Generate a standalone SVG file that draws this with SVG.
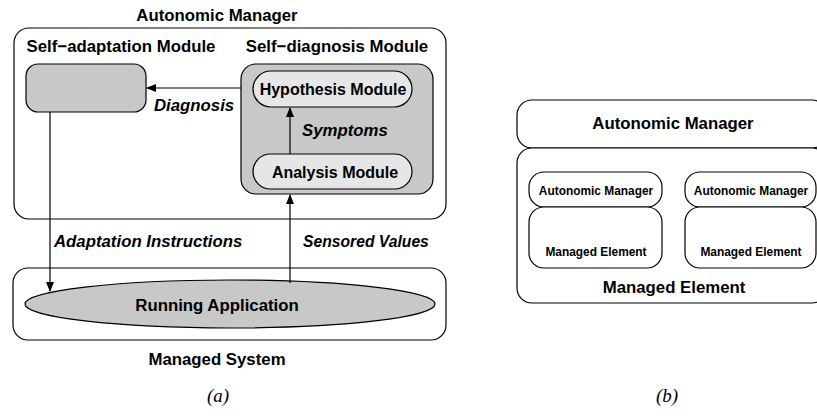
<svg xmlns="http://www.w3.org/2000/svg" width="817" height="418" viewBox="0 0 817 418">
<defs>
<marker id="ah" markerWidth="10" markerHeight="8" refX="9" refY="4" orient="auto" markerUnits="userSpaceOnUse">
<path d="M0,0 L10,4 L0,8 Z" fill="#000"/>
</marker>
<style>
.box{fill:#fff;stroke:#000;stroke-width:1.2}
.gray{fill:#c8c8c8;stroke:#000;stroke-width:1.2}
.light{fill:#e6e6e6;stroke:#000;stroke-width:1.2}
text{font-family:"Liberation Sans",Arial,sans-serif;font-weight:bold;fill:#000}
.t17{font-size:16.8px}
.t16{font-size:16px}
.t12{font-size:11.9px}
.lbl{font-size:16.8px;font-style:italic}
.cap{font-family:"Liberation Serif","Times New Roman",serif;font-weight:normal;font-style:italic;font-size:19px}
.line{stroke:#000;stroke-width:1.2;fill:none}
</style>
</defs>
<rect width="817" height="418" fill="#fff"/>
<g id="autonomic-manager">
<rect class="box" x="14" y="28" width="432" height="191" rx="15"/>
<text class="t17" x="217" y="21" text-anchor="middle">Autonomic Manager</text>
<text class="t17" x="121" y="52" text-anchor="middle">Self−adaptation Module</text>
<text class="t17" x="337" y="52" text-anchor="middle">Self−diagnosis Module</text>
</g>
<g id="self-adaptation">
<rect class="gray" x="26" y="64" width="120" height="48" rx="12"/>
</g>
<g id="self-diagnosis">
<rect class="gray" x="241" y="64" width="192" height="130" rx="15"/>
</g>
<g id="hypothesis">
<rect class="light" x="253" y="71" width="159" height="36" rx="18"/>
<text class="t16" x="333" y="95" text-anchor="middle">Hypothesis Module</text>
</g>
<g id="analysis">
<rect class="light" x="253" y="154" width="159" height="35" rx="17.5"/>
<text class="t16" x="335" y="178" text-anchor="middle">Analysis Module</text>
</g>
<g id="managed-system">
<rect class="box" x="13" y="268" width="433" height="72" rx="15"/>
<text class="t17" x="217" y="365" text-anchor="middle">Managed System</text>
</g>
<g id="running-application">
<ellipse class="gray" cx="230" cy="304" rx="205" ry="24"/>
<text class="t17" x="217" y="311" text-anchor="middle">Running Application</text>
</g>
<g id="connectors">
<line class="line" x1="241" y1="88" x2="147" y2="88" marker-end="url(#ah)"/>
<line class="line" x1="290" y1="154" x2="290" y2="108" marker-end="url(#ah)"/>
<line class="line" x1="50" y1="112" x2="50" y2="291" marker-end="url(#ah)"/>
<line class="line" x1="290" y1="283" x2="290" y2="195" marker-end="url(#ah)"/>
<text class="lbl" x="154" y="111">Diagnosis</text>
<text class="lbl" x="302" y="136">Symptoms</text>
<text class="lbl" x="54" y="247">Adaptation Instructions</text>
<text class="lbl" x="303" y="247" style="font-size:15.7px">Sensored Values</text>
</g>
<text class="cap" x="218" y="402" text-anchor="middle">(a)</text>
<g id="b-autonomic-manager">
<rect class="box" x="517" y="100" width="310" height="48" rx="15"/>
<text class="t17" x="673" y="129" text-anchor="middle">Autonomic Manager</text>
</g>
<g id="b-managed-element">
<rect class="box" x="517" y="148" width="310" height="155" rx="15"/>
<text class="t17" x="674" y="293" text-anchor="middle">Managed Element</text>
</g>
<g id="b-am-left">
<rect class="box" x="529" y="172" width="133" height="35" rx="15"/>
<text class="t12" x="596" y="195" text-anchor="middle">Autonomic Manager</text>
</g>
<g id="b-me-left">
<rect class="box" x="529" y="207" width="133" height="61" rx="15"/>
<text class="t12" x="596" y="256" text-anchor="middle">Managed Element</text>
</g>
<g id="b-am-right">
<rect class="box" x="685" y="172" width="131" height="35" rx="15"/>
<text class="t12" x="751" y="195" text-anchor="middle">Autonomic Manager</text>
</g>
<g id="b-me-right">
<rect class="box" x="685" y="207" width="131" height="61" rx="15"/>
<text class="t12" x="751" y="256" text-anchor="middle">Managed Element</text>
</g>
<text class="cap" x="667" y="402" text-anchor="middle">(b)</text>
</svg>
